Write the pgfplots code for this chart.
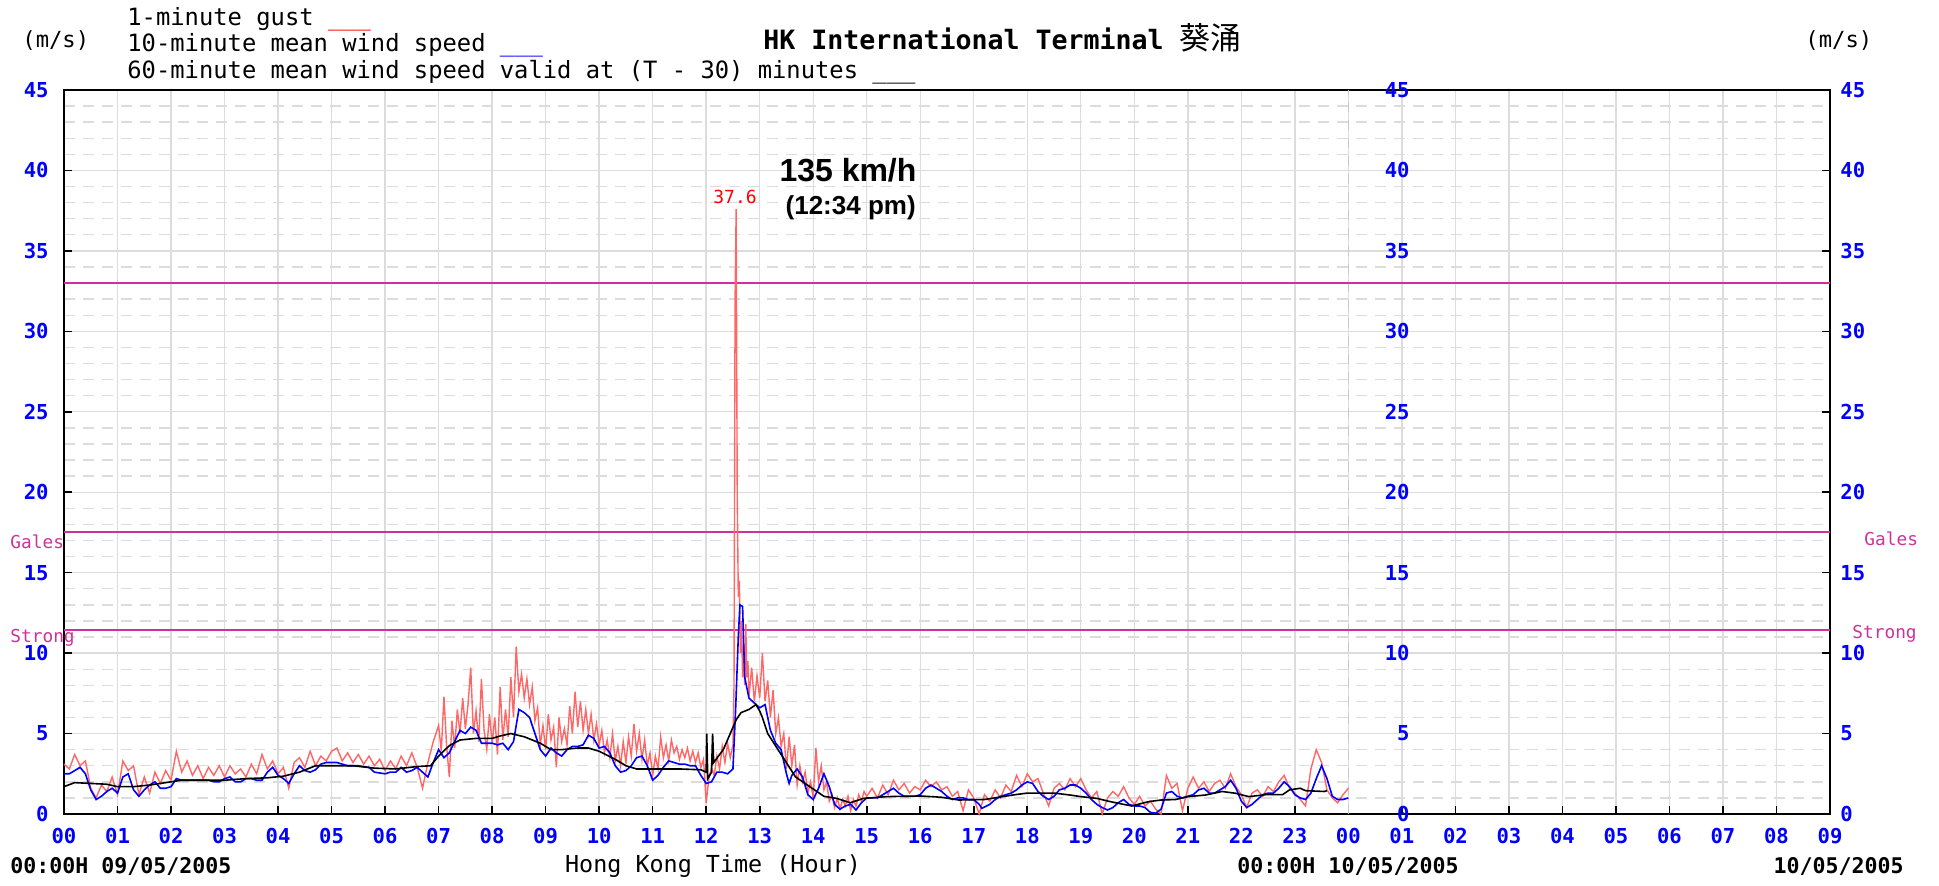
\documentclass[border=0pt]{standalone}
\usepackage{fontspec}
\usepackage{pgfplots}
\pgfplotsset{compat=1.18}
\setmainfont{DejaVu Sans Mono}
\newfontfamily\arial{Liberation Sans}
\newfontfamily\cjk{Noto Sans CJK TC}
\definecolor{gust}{RGB}{255,102,102}
\definecolor{tickblue}{RGB}{0,0,255}
\definecolor{mag}{RGB}{204,51,153}
\definecolor{gridc}{RGB}{220,220,220}
\newcommand{\fs}[1]{\fontsize{#1}{#1}\selectfont}
\begin{document}
\begin{tikzpicture}
\begin{axis}[
  scale only axis, width=883pt, height=362pt,
  at={(0,0)}, anchor=south west,
  xmin=0, xmax=33, ymin=0, ymax=45,
  clip=false,
  xtick={0,...,33},
  xticklabels={00,01,02,03,04,05,06,07,08,09,10,11,12,13,14,15,16,17,18,19,20,21,22,23,00,01,02,03,04,05,06,07,08,09},
  ytick={0,5,...,45},
  yticklabels={0,5,10,15,20,25,30,35,40,45},
  minor y tick num=4,
  xtick pos=bottom, ytick pos=both,
  tick align=inside,
  major tick length=4pt, minor tick length=0pt,
  tick style={black, line width=0.8pt},
  xmajorgrids, ymajorgrids, yminorgrids,
  major grid style={gridc, line width=0.7pt},
  minor grid style={gridc, line width=0.7pt, dash pattern=on 5.5pt off 4pt},
  axis line style={black, line width=0.9pt},
  xticklabel style={font=\bfseries\fs{10.3}, text=tickblue, inner sep=0pt, anchor=north, yshift=-7pt},
  yticklabel style={font=\bfseries\fs{10.3}, text=tickblue, inner sep=0pt, anchor=east, xshift=-7.5pt},
]
\draw[gridc!80!gray, line width=0.7pt, dash pattern=on 5pt off 4pt] (axis cs:24,0) -- (axis cs:24,45);
\addplot[mag, line width=1pt] coordinates {(0,33) (33,33)};
\addplot[mag, line width=1pt] coordinates {(0,17.5) (33,17.5)};
\addplot[mag, line width=1pt] coordinates {(0,11.45) (33,11.45)};

% 1-minute gust
\addplot[gust, line width=0.7pt] table {
0.0 3.1
0.1 2.8
0.2 3.7
0.3 3.0
0.4 3.3
0.5 1.6
0.6 1.0
0.7 1.8
0.8 1.4
0.9 2.3
1.0 1.2
1.1 3.3
1.2 2.7
1.3 3.0
1.4 1.2
1.5 2.3
1.6 1.3
1.7 2.6
1.8 1.9
1.9 2.7
2.0 2.1
2.1 3.9
2.2 2.6
2.3 3.3
2.4 2.4
2.5 3.0
2.6 2.2
2.7 2.9
2.8 2.4
2.9 3.0
3.0 2.3
3.1 3.0
3.2 2.5
3.3 2.8
3.4 2.3
3.5 3.1
3.6 2.5
3.7 3.7
3.8 2.8
3.9 3.3
4.0 2.5
4.1 2.9
4.2 1.6
4.3 3.2
4.4 3.5
4.5 2.9
4.6 3.9
4.7 3.0
4.8 3.6
4.9 3.3
5.0 3.9
5.1 4.1
5.2 3.3
5.3 3.8
5.4 3.2
5.5 3.7
5.6 3.1
5.7 3.6
5.8 3.0
5.9 3.4
6.0 2.7
6.1 3.3
6.2 2.8
6.3 3.6
6.4 3.0
6.5 3.8
6.6 2.9
6.7 1.6
6.8 3.2
6.9 4.5
7.00 5.5
7.05 3.9
7.10 7.3
7.15 4.2
7.20 2.3
7.25 5.8
7.30 4.1
7.35 6.5
7.40 5.0
7.45 7.2
7.50 5.3
7.55 6.8
7.60 9.1
7.65 5.0
7.70 6.4
7.75 4.5
7.80 8.4
7.85 5.2
7.90 4.0
7.95 6.2
8.00 4.4
8.05 6.0
8.10 3.7
8.15 7.9
8.20 4.6
8.25 6.5
8.30 4.8
8.35 8.5
8.40 6.0
8.45 10.4
8.50 7.6
8.55 8.7
8.60 7.2
8.65 8.4
8.70 6.8
8.75 7.9
8.80 5.8
8.85 6.6
8.90 4.3
8.95 5.5
9.00 4.0
9.05 6.2
9.10 4.6
9.15 5.4
9.20 2.9
9.25 6.0
9.30 4.5
9.35 5.3
9.40 4.3
9.45 6.7
9.50 5.0
9.55 7.6
9.60 5.4
9.65 7.0
9.70 5.2
9.75 6.5
9.80 5.0
9.85 6.2
9.90 4.6
9.95 5.6
10.00 4.3
10.05 5.2
10.10 3.8
10.15 4.6
10.20 3.5
10.25 5.0
10.30 3.3
10.35 4.2
10.40 3.0
10.45 4.5
10.50 3.2
10.55 4.8
10.60 3.6
10.65 5.6
10.70 3.9
10.75 5.0
10.80 3.4
10.85 4.6
10.90 3.0
10.95 3.8
11.00 2.4
11.05 3.6
11.10 2.8
11.15 4.8
11.20 3.5
11.25 4.3
11.30 3.3
11.35 4.6
11.40 3.8
11.45 4.2
11.50 3.4
11.55 4.0
11.60 3.5
11.65 4.1
11.70 3.3
11.75 3.9
11.80 3.2
11.85 3.8
11.90 2.9
11.95 3.4
12.00 0.7
12.05 2.2
12.10 2.9
12.15 2.4
12.20 3.6
12.25 2.8
12.30 4.2
12.35 3.2
12.40 4.4
12.45 3.5
12.50 4.3
12.52 8.0
12.54 32.0
12.56 37.6
12.58 20.0
12.60 13.5
12.62 14.5
12.64 10.0
12.66 12.0
12.68 8.5
12.70 10.4
12.72 8.0
12.74 11.8
12.76 8.5
12.78 9.5
12.80 7.3
12.85 9.1
12.90 7.0
12.95 8.6
13.00 7.2
13.05 10.0
13.10 7.0
13.15 8.3
13.20 6.0
13.25 7.7
13.30 5.0
13.35 6.0
13.40 4.2
13.45 5.0
13.50 2.8
13.55 4.8
13.60 3.0
13.65 4.3
13.70 1.8
13.75 3.0
13.80 2.0
13.85 2.6
13.90 1.3
13.95 2.0
14.00 1.0
14.05 4.1
14.10 2.0
14.15 3.0
14.20 1.5
14.25 2.0
14.30 0.8
14.35 1.2
14.40 0.4
14.45 1.0
14.50 0.3
14.55 0.9
14.60 0.5
14.65 1.1
14.70 0.2
14.75 0.9
14.80 0.5
14.85 1.2
14.90 0.8
14.95 1.4
15.0 1.1
15.1 1.6
15.2 1.0
15.3 1.8
15.4 1.2
15.5 2.1
15.6 1.5
15.7 1.9
15.8 1.3
15.9 1.7
16.0 1.5
16.1 2.1
16.2 1.7
16.3 2.0
16.4 1.5
16.5 1.7
16.6 1.1
16.7 1.4
16.8 0.2
16.9 1.5
17.0 1.0
17.1 0.0
17.2 1.2
17.3 0.8
17.4 1.5
17.5 1.0
17.6 1.8
17.7 1.4
17.8 2.4
17.9 1.7
18.0 2.5
18.1 2.0
18.2 2.2
18.3 1.3
18.4 0.5
18.5 1.6
18.6 1.9
18.7 1.5
18.8 2.2
18.9 1.7
19.0 2.2
19.1 1.5
19.2 1.0
19.3 1.4
19.4 0.0
19.5 1.0
19.6 1.4
19.7 1.1
19.8 1.7
19.9 1.0
20.0 0.6
20.1 1.1
20.2 0.5
20.3 0.8
20.4 0.3
20.5 0.0
20.6 2.4
20.7 1.6
20.8 1.9
20.9 0.2
21.0 1.6
21.1 2.3
21.2 1.6
21.3 2.0
21.4 1.4
21.5 1.9
21.6 2.1
21.7 1.6
21.8 2.5
21.9 1.7
22.0 1.2
22.1 0.4
22.2 1.3
22.3 1.5
22.4 1.1
22.5 1.7
22.6 1.4
22.7 2.0
22.8 2.4
22.9 1.6
23.0 1.3
23.1 0.9
23.2 0.5
23.3 2.8
23.4 4.0
23.5 3.2
23.6 1.5
23.7 1.0
23.8 0.7
23.9 1.2
24.0 1.6
};

% 10-minute mean wind speed
\addplot[tickblue, line width=0.8pt] table {
0.0 2.5
0.1 2.5
0.2 2.7
0.3 2.9
0.4 2.5
0.5 1.5
0.6 0.9
0.7 1.1
0.8 1.4
0.9 1.6
1.0 1.3
1.1 2.3
1.2 2.5
1.3 1.5
1.4 1.1
1.5 1.5
1.6 1.8
1.7 2.0
1.8 1.6
1.9 1.6
2.0 1.7
2.1 2.2
2.2 2.1
2.3 2.1
2.4 2.1
2.5 2.1
2.6 2.1
2.7 2.1
2.8 2.0
2.9 2.0
3.0 2.2
3.1 2.3
3.2 2.0
3.3 2.0
3.4 2.2
3.5 2.2
3.6 2.1
3.7 2.1
3.8 2.6
3.9 2.9
4.0 2.4
4.1 2.2
4.2 1.9
4.3 2.5
4.4 3.0
4.5 2.7
4.6 2.6
4.7 2.75
4.8 3.1
4.9 3.2
5.0 3.2
5.1 3.2
5.2 3.1
5.3 3.0
5.4 3.0
5.5 3.0
5.6 2.95
5.7 2.9
5.8 2.6
5.9 2.55
6.0 2.5
6.1 2.6
6.2 2.6
6.3 2.9
6.4 2.6
6.5 2.7
6.6 2.9
6.7 2.6
6.8 2.3
6.9 3.2
7.0 4.0
7.1 3.5
7.2 3.8
7.3 4.5
7.4 5.2
7.5 5.0
7.6 5.4
7.7 5.2
7.8 4.4
7.9 4.4
8.0 4.4
8.1 4.3
8.2 4.4
8.3 4.0
8.4 4.5
8.5 6.5
8.6 6.3
8.7 6.0
8.8 5.0
8.9 4.0
9.0 3.6
9.1 4.1
9.2 3.8
9.3 3.6
9.4 4.0
9.5 4.2
9.6 4.2
9.7 4.3
9.8 4.9
9.9 4.7
10.0 4.1
10.1 4.2
10.2 3.8
10.3 3.0
10.4 2.6
10.5 2.7
10.6 3.0
10.7 3.5
10.8 3.6
10.9 3.0
11.0 2.1
11.1 2.4
11.2 2.9
11.3 3.3
11.4 3.2
11.5 3.1
11.6 3.1
11.7 3.0
11.8 3.0
11.9 2.4
12.0 1.9
12.1 2.0
12.2 2.6
12.3 2.6
12.4 2.5
12.5 2.8
12.55 6.5
12.6 11.0
12.63 13.0
12.68 12.9
12.72 8.5
12.8 7.2
12.9 6.9
13.0 6.6
13.1 6.8
13.2 5.2
13.3 4.4
13.4 4.0
13.5 2.5
13.55 1.9
13.6 2.4
13.7 2.8
13.8 2.3
13.9 1.2
14.0 0.9
14.1 1.6
14.2 2.5
14.3 1.7
14.4 0.6
14.5 0.3
14.6 0.5
14.7 0.6
14.8 0.25
14.9 0.7
15.0 1.0
15.1 1.0
15.2 1.0
15.3 1.2
15.4 1.4
15.5 1.6
15.6 1.3
15.7 1.1
15.8 1.1
15.9 1.1
16.0 1.2
16.1 1.6
16.2 1.8
16.3 1.6
16.4 1.4
16.5 1.1
16.6 0.9
16.7 1.0
16.8 1.0
16.9 0.9
17.0 0.9
17.1 0.6
17.15 0.35
17.3 0.6
17.4 0.9
17.5 1.1
17.6 1.2
17.7 1.3
17.8 1.5
17.9 1.8
18.0 2.0
18.1 1.9
18.2 1.4
18.3 1.1
18.4 0.9
18.5 1.1
18.6 1.5
18.7 1.6
18.8 1.8
18.9 1.8
19.0 1.6
19.1 1.3
19.2 0.9
19.3 0.6
19.4 0.4
19.5 0.25
19.6 0.4
19.7 0.7
19.8 0.9
19.9 0.6
20.0 0.5
20.1 0.5
20.2 0.4
20.3 0.1
20.4 0.05
20.5 0.3
20.6 1.3
20.7 1.4
20.8 1.1
20.9 1.0
21.0 1.1
21.1 1.2
21.2 1.5
21.3 1.6
21.4 1.3
21.5 1.3
21.6 1.5
21.7 1.7
21.8 2.1
21.9 1.6
22.0 0.8
22.1 0.4
22.2 0.6
22.3 0.9
22.4 1.2
22.5 1.3
22.6 1.3
22.7 1.6
22.8 2.0
22.9 1.7
23.0 1.2
23.1 1.0
23.2 0.9
23.3 1.3
23.4 2.2
23.5 3.0
23.6 2.2
23.7 1.1
23.8 0.9
23.9 0.9
24.0 1.0
};

% 60-minute mean wind speed
\addplot[black, line width=0.8pt] table {
0.0 1.7
0.2 1.95
0.5 1.9
0.8 1.85
1.0 1.7
1.3 1.7
1.6 1.8
1.9 1.95
2.2 2.1
2.6 2.1
3.0 2.1
3.4 2.2
3.8 2.25
4.1 2.35
4.4 2.6
4.7 3.0
5.0 3.0
5.4 3.0
5.8 2.85
6.2 2.8
6.6 2.95
6.85 3.0
7.0 3.6
7.2 4.25
7.4 4.6
7.7 4.7
8.0 4.7
8.15 4.85
8.35 5.0
8.6 4.8
8.9 4.4
9.1 4.0
9.3 4.0
9.6 4.1
9.8 4.1
10.0 3.9
10.3 3.4
10.5 3.0
10.7 2.8
11.0 2.8
11.5 2.8
11.9 2.75
12.0 2.6
12.01 5.0
12.03 2.2
12.10 2.6
12.12 5.0
12.14 3.2
12.32 4.0
12.56 5.85
12.65 6.3
12.8 6.5
12.93 6.8
13.0 6.4
13.05 6.0
13.15 5.0
13.42 3.6
13.67 2.3
13.98 1.6
14.2 1.1
14.44 0.97
14.69 0.7
14.94 0.97
15.37 1.08
16.0 1.12
16.4 1.04
16.72 0.87
17.2 0.9
17.46 1.04
17.77 1.2
18.0 1.3
18.5 1.3
18.8 1.18
19.0 1.08
19.3 0.97
19.55 0.77
19.77 0.62
19.95 0.5
20.27 0.77
20.5 0.87
20.77 0.9
21.0 1.08
21.33 1.18
21.64 1.4
21.89 1.29
22.14 1.08
22.45 1.2
22.77 1.2
22.9 1.5
23.1 1.6
23.2 1.45
23.55 1.4
23.6 1.45
};

\node[text=red, font=\fs{9}, anchor=center] at (axis cs:12.54,38.35) {37.6};
\node[font=\arial\bfseries\fs{16}, anchor=center] at (axis cs:14.65,40.0) {135 km/h};
\node[font=\arial\bfseries\fs{13}, anchor=center] at (axis cs:14.7,37.7) {(12:34 pm)};
\end{axis}

% right and middle y tick labels
\foreach \v in {0,5,...,45} {
  \node[font=\bfseries\fs{10.3}, text=tickblue, inner sep=0pt, anchor=west] at (888pt,{\v*362/45*1pt}) {\v};
  \node[font=\bfseries\fs{10.3}, text=tickblue, inner sep=0pt, anchor=east] at (673pt,{\v*362/45*1pt}) {\v};
}

% header
\node[font=\fs{11.1}, anchor=base west, inner sep=0pt] at (-21pt,383pt) {(m/s)};
\node[font=\fs{11.1}, anchor=base west, inner sep=0pt] at (870.5pt,383pt) {(m/s)};
\node[font=\fs{11.9}, anchor=base west, inner sep=0pt] at (31.5pt,394.3pt) {1-minute gust \textcolor{red}{\_\_\_}};
\node[font=\fs{11.9}, anchor=base west, inner sep=0pt] at (31.5pt,381.3pt) {10-minute mean wind speed \textcolor{tickblue}{\_\_\_}};
\node[font=\fs{11.9}, anchor=base west, inner sep=0pt] at (31.5pt,367.7pt) {60-minute mean wind speed valid at (T - 30) minutes \_\_\_};
\node[font=\bfseries\fs{13.3}, anchor=base west, inner sep=0pt] at (349.5pt,382pt) {HK International Terminal\hspace{0.6em}{\cjk\mdseries\fs{15.5}葵涌}};

% threshold labels
\node[text=mag, font=\fs{8.9}, anchor=west, inner sep=0pt] at (-27pt,136pt) {Gales};
\node[text=mag, font=\fs{8.9}, anchor=west, inner sep=0pt] at (900pt,137.5pt) {Gales};
\node[text=mag, font=\fs{8.9}, anchor=west, inner sep=0pt] at (-27pt,88pt) {Strong};
\node[text=mag, font=\fs{8.9}, anchor=west, inner sep=0pt] at (894pt,90pt) {Strong};

% footer
\node[font=\bfseries\fs{10.8}, anchor=west, inner sep=0pt] at (-27pt,-26pt) {00:00H 09/05/2005};
\node[font=\fs{11.7}, anchor=center, inner sep=0pt] at (324.5pt,-26pt) {Hong Kong Time (Hour)};
\node[font=\bfseries\fs{10.8}, anchor=center, inner sep=0pt] at (642pt,-26pt) {00:00H 10/05/2005};
\node[font=\bfseries\fs{10.8}, anchor=east, inner sep=0pt] at (920pt,-26pt) {10/05/2005};

\pgfresetboundingbox
\path (-32pt,-35.5pt) rectangle (937.5pt,407pt);
\end{tikzpicture}
\end{document}
